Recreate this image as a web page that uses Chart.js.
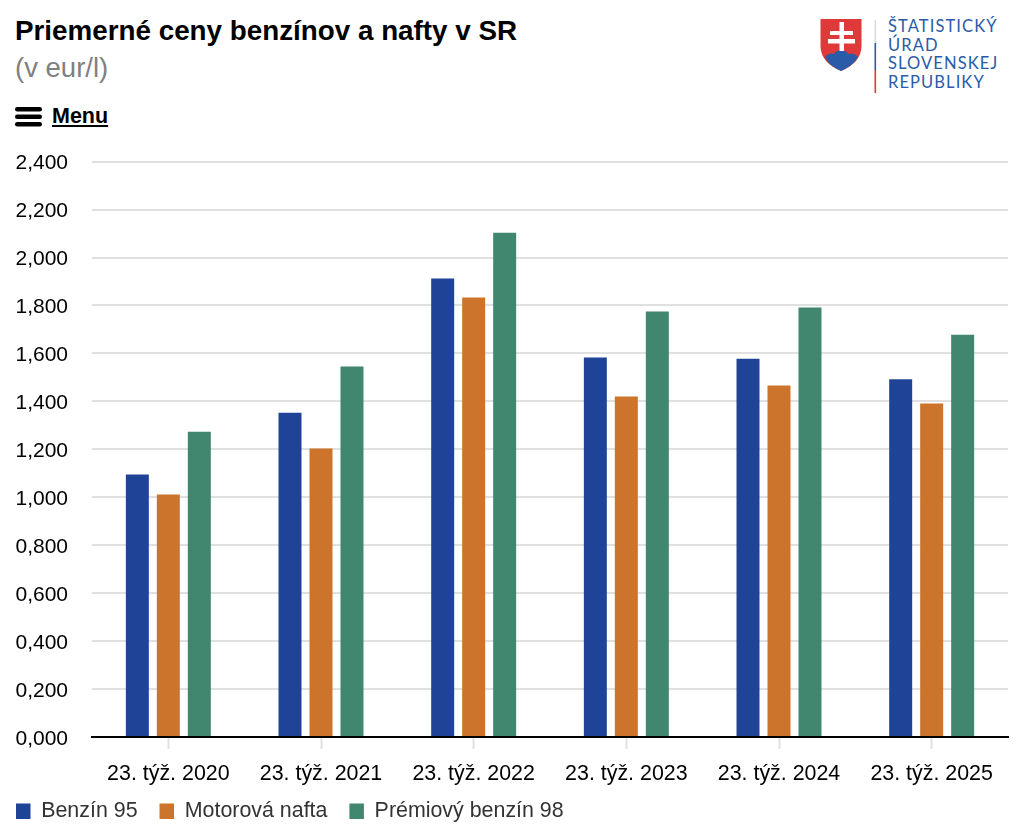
<!DOCTYPE html>
<html lang="sk">
<head>
    <meta charset="UTF-8">
    <title>Priemerné ceny benzínov a nafty v SR</title>
    <script src="https://cdn.jsdelivr.net/npm/chart.js"></script>
    <style>
        html, body { margin: 0; padding: 0; background: #fff; }
        body { width: 1024px; height: 831px; position: relative; overflow: hidden; font-family: "Liberation Sans", Arial, sans-serif; }
        .title { position: absolute; left: 15px; top: 16px; font-size: 27.8px; line-height: 30px; font-weight: bold; color: #000; white-space: nowrap; }
        .subtitle { position: absolute; left: 15px; top: 53px; font-size: 27.5px; line-height: 30px; color: #808080; }
        .menu { position: absolute; left: 52px; top: 104px; font-size: 21.5px; line-height: 24px; font-weight: bold; color: #000; text-decoration: underline; }
        .burger { position: absolute; left: 15px; top: 107px; }
        .logo { position: absolute; left: 820px; top: 18px; }
        .logo-text { position: absolute; left: 888px; top: 17px; font-family: Lato, sans-serif; font-size: 16.5px; line-height: 18.5px; letter-spacing: 1.1px; color: #2a5ba8; white-space: nowrap; }
        #wrap { position: absolute; left: 0; top: 125px; width: 1024px; height: 716px; }
    </style>
</head>
<body>
    <div class="title">Priemerné ceny benzínov a nafty v SR</div>
    <div class="subtitle">(v eur/l)</div>
    <svg class="burger" width="27" height="20" viewBox="0 0 27 20">
        <rect x="0" y="0" width="27" height="4.5" rx="2.2" fill="#000"/>
        <rect x="0" y="7.5" width="27" height="4.5" rx="2.2" fill="#000"/>
        <rect x="0" y="15" width="27" height="4.5" rx="2.2" fill="#000"/>
    </svg>
    <div class="menu">Menu</div>

    <!-- erb + zvisla ciara -->
    <svg class="logo" width="62" height="78" viewBox="0 0 62 78">
        <path d="M0.5 1 H41.5 V28 C41.5 40 33 48 21 53 C9 48 0.5 40 0.5 28 Z" fill="#e0393a"/>
        <path d="M5 39 C8 35 12 35 14 36 C16 31 26 31 28 36 C31 35 35 35 38 39 C33 47 27 50 21 53 C15 50 9 47 5 39 Z" fill="#2a5ba8"/>
        <path d="M19.5 4 H24 V13 H33 V17 H24 V21 H35 V25.5 H24 V33 H19.5 V25.5 H8 V21 H19.5 V17 H10 V13 H19.5 Z" fill="#fff"/>
        <rect x="54.5" y="2" width="1.6" height="23" fill="#dcdcdc"/>
        <rect x="54.5" y="25" width="1.6" height="27" fill="#2a5ba8"/>
        <rect x="54.5" y="52" width="1.6" height="23" fill="#e0393a"/>
    </svg>
    <div class="logo-text">ŠTATISTICKÝ<br>ÚRAD<br>SLOVENSKEJ<br>REPUBLIKY</div>

    <div id="wrap"><canvas id="myChart"></canvas></div>

    <script>
        const categories = ['23. týž. 2020','23. týž. 2021','23. týž. 2022','23. týž. 2023','23. týž. 2024','23. týž. 2025'];
        const benzin95 = [1.095,1.352,1.912,1.583,1.578,1.492];
        const nafta = [1.011,1.203,1.833,1.420,1.466,1.391];
        const benzin98 = [1.273,1.545,2.103,1.775,1.791,1.678];
        const yTickLabels = ['0,000','0,200','0,400','0,600','0,800','1,000','1,200','1,400','1,600','1,800','2,000','2,200','2,400'];

        const tickFont = { family: '"Liberation Sans", Arial, sans-serif', size: 21 };
        const xFont = { family: '"Liberation Sans", Arial, sans-serif', size: 21.4 };

        const makeSet = (label, values, color) => ({
            label: label,
            data: values,
            backgroundColor: color,
            borderWidth: 0,
            barPercentage: 0.742,
            categoryPercentage: 0.609
        });

        //legenda: vlavo na 16px a bližšie k popisom osi, nezavisle od padding medzi polozkami
        const legendPlace = {
            id: 'legendPlace',
            afterLayout: (chart) => {
                chart.legend.left = 16 - chart.legend.options.labels.padding;
                chart.legend.top -= 9;
            }
        };

        var ctx = document.querySelector('#myChart').getContext('2d');
        var myChart = new Chart(ctx, {
            type: 'bar',
            plugins: [legendPlace],
            data: {
                labels: categories,
                datasets: [
                    makeSet('Benzín 95', benzin95, '#1f4397'),
                    makeSet('Motorová nafta', nafta, '#cc742b'),
                    makeSet('Prémiový benzín 98', benzin98, '#41866f')
                ]
            },
            options: {
                responsive: true,
                maintainAspectRatio: false,
                animation: false,
                layout: { padding: { top: 21, right: 16, bottom: 0, left: 0 } },
                plugins: {
                    tooltip: { enabled: false },
                    legend: {
                        position: 'bottom',
                        align: 'start',
                        labels: {
                            boxWidth: 14.5,
                            boxHeight: 15.5,
                            padding: 22,
                            color: '#333333',
                            font: xFont
                        }
                    }
                },
                scales: {
                    x: {
                        grid: { offset: false, drawOnChartArea: false, drawTicks: true, tickLength: 12, tickColor: '#e0e0e0', tickWidth: 2 },
                        border: { color: '#000000', width: 2 },
                        ticks: { color: '#000000', font: xFont, maxRotation: 0, padding: 12 },
                        //zvysok do celeho pixela, aby medzi stlpcami a osou nebola biela linka
                        afterFit: (scale) => { scale.height = 50.6; }
                    },
                    y: {
                        min: 0,
                        max: 2.4,
                        grid: { color: '#e0e0e0', lineWidth: 2, drawTicks: false },
                        border: { display: false },
                        ticks: {
                            stepSize: 0.2,
                            color: '#000000',
                            font: tickFont,
                            padding: 24,
                            labelOffset: 2,
                            callback: (value, index) => yTickLabels[index]
                        },
                        afterFit: (scale) => { scale.width = 92; }
                    }
                }
            }
        });
    </script>
</body>
</html>
